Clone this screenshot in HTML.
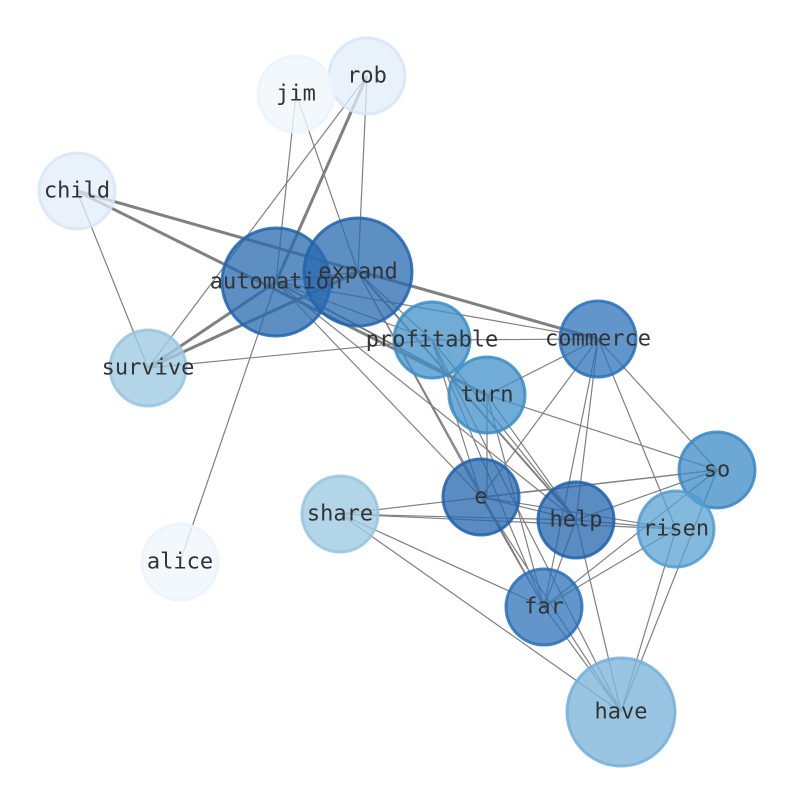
<!DOCTYPE html>
<html><head><style>html,body{margin:0;padding:0;background:#fff}svg{display:block}</style></head><body>
<svg width="794" height="790" viewBox="0 0 794 790" xmlns="http://www.w3.org/2000/svg">
<g stroke="#808080" stroke-width="1.2" fill="none">
<line x1="367" y1="76" x2="276" y2="282" stroke-width="3"/>
<line x1="367" y1="76" x2="148" y2="368"/>
<line x1="367" y1="76" x2="358" y2="272"/>
<line x1="296" y1="94" x2="276" y2="282"/>
<line x1="296" y1="94" x2="358" y2="272"/>
<line x1="77" y1="191" x2="598" y2="339" stroke-width="3"/>
<line x1="77" y1="191" x2="487" y2="395" stroke-width="3"/>
<line x1="77" y1="191" x2="148" y2="368"/>
<line x1="148" y1="368" x2="276" y2="282" stroke-width="3"/>
<line x1="148" y1="368" x2="358" y2="272" stroke-width="3"/>
<line x1="148" y1="368" x2="432" y2="340"/>
<line x1="276" y1="282" x2="358" y2="272"/>
<line x1="276" y1="282" x2="598" y2="339"/>
<line x1="276" y1="282" x2="432" y2="340"/>
<line x1="276" y1="282" x2="180" y2="562"/>
<line x1="276" y1="282" x2="576" y2="520"/>
<line x1="276" y1="282" x2="481" y2="497"/>
<line x1="276" y1="282" x2="487" y2="395" stroke-width="2"/>
<line x1="358" y1="272" x2="598" y2="339"/>
<line x1="358" y1="272" x2="432" y2="340"/>
<line x1="358" y1="272" x2="576" y2="520" stroke-width="2"/>
<line x1="358" y1="272" x2="544" y2="607"/>
<line x1="358" y1="272" x2="481" y2="497"/>
<line x1="432" y1="340" x2="598" y2="339"/>
<line x1="432" y1="340" x2="481" y2="497"/>
<line x1="432" y1="340" x2="544" y2="607"/>
<line x1="432" y1="340" x2="576" y2="520"/>
<line x1="432" y1="340" x2="621" y2="712"/>
<line x1="598" y1="339" x2="487" y2="395"/>
<line x1="598" y1="339" x2="481" y2="497"/>
<line x1="598" y1="339" x2="576" y2="520"/>
<line x1="598" y1="339" x2="544" y2="607"/>
<line x1="598" y1="339" x2="717" y2="470"/>
<line x1="598" y1="339" x2="676" y2="529"/>
<line x1="487" y1="395" x2="717" y2="470"/>
<line x1="487" y1="395" x2="576" y2="520"/>
<line x1="487" y1="395" x2="544" y2="607"/>
<line x1="487" y1="395" x2="487" y2="500"/>
<line x1="717" y1="470" x2="481" y2="497"/>
<line x1="717" y1="470" x2="576" y2="520"/>
<line x1="717" y1="470" x2="340" y2="514"/>
<line x1="717" y1="470" x2="544" y2="607"/>
<line x1="717" y1="470" x2="621" y2="712"/>
<line x1="481" y1="497" x2="576" y2="520"/>
<line x1="481" y1="497" x2="676" y2="529"/>
<line x1="481" y1="497" x2="544" y2="607"/>
<line x1="481" y1="497" x2="621" y2="712"/>
<line x1="340" y1="514" x2="576" y2="520"/>
<line x1="340" y1="514" x2="676" y2="529"/>
<line x1="340" y1="514" x2="544" y2="607"/>
<line x1="340" y1="514" x2="621" y2="712"/>
<line x1="576" y1="520" x2="676" y2="529"/>
<line x1="576" y1="520" x2="544" y2="607"/>
<line x1="576" y1="520" x2="621" y2="712"/>
<line x1="676" y1="529" x2="544" y2="607"/>
<line x1="676" y1="529" x2="621" y2="712"/>
<line x1="544" y1="607" x2="621" y2="712"/>
</g>
<g stroke-width="3">
<circle cx="367" cy="76" r="38" fill="rgba(225,236,248,0.75)" stroke="rgba(215,229,245,0.8)"/>
<circle cx="296" cy="94" r="38" fill="rgba(240,246,253,0.8)" stroke="rgba(235,243,251,0.8)"/>
<circle cx="77" cy="191" r="38" fill="rgba(225,236,248,0.75)" stroke="rgba(215,229,245,0.8)"/>
<circle cx="180" cy="562" r="38" fill="rgba(240,246,253,0.8)" stroke="rgba(235,243,251,0.8)"/>
<circle cx="148" cy="368" r="38" fill="rgba(160,203,226,0.8)" stroke="rgba(150,196,222,0.85)"/>
<circle cx="340" cy="514" r="38" fill="rgba(160,203,226,0.8)" stroke="rgba(150,196,222,0.85)"/>
<circle cx="276" cy="282" r="54" fill="rgba(40,106,175,0.75)" stroke="rgba(30,100,175,0.85)"/>
<circle cx="358" cy="272" r="54" fill="rgba(40,106,175,0.75)" stroke="rgba(30,100,175,0.85)"/>
<circle cx="432" cy="340" r="38" fill="rgba(66,144,200,0.75)" stroke="rgba(60,140,198,0.85)"/>
<circle cx="598" cy="339" r="38" fill="rgba(45,115,185,0.75)" stroke="rgba(40,110,185,0.85)"/>
<circle cx="487" cy="395" r="38" fill="rgba(66,144,200,0.75)" stroke="rgba(60,140,198,0.85)"/>
<circle cx="717" cy="470" r="38" fill="rgba(60,138,196,0.75)" stroke="rgba(55,135,195,0.85)"/>
<circle cx="481" cy="497" r="38" fill="rgba(35,100,172,0.75)" stroke="rgba(30,96,172,0.85)"/>
<circle cx="576" cy="520" r="38" fill="rgba(35,100,172,0.75)" stroke="rgba(30,96,172,0.85)"/>
<circle cx="676" cy="529" r="38" fill="rgba(90,162,210,0.75)" stroke="rgba(80,156,208,0.85)"/>
<circle cx="544" cy="607" r="38" fill="rgba(45,115,185,0.75)" stroke="rgba(40,110,185,0.85)"/>
<circle cx="621" cy="712" r="54" fill="rgba(128,182,220,0.8)" stroke="rgba(115,175,218,0.85)"/>
</g>
<g font-family="'DejaVu Sans Mono','Liberation Mono',monospace" font-size="22" fill="#333" text-anchor="middle" dominant-baseline="central">
<text x="367" y="76">rob</text>
<text x="296" y="94">jim</text>
<text x="77" y="191">child</text>
<text x="180" y="562">alice</text>
<text x="148" y="368">survive</text>
<text x="340" y="514">share</text>
<text x="276" y="282">automation</text>
<text x="358" y="272">expand</text>
<text x="432" y="340">profitable</text>
<text x="598" y="339">commerce</text>
<text x="487" y="395">turn</text>
<text x="717" y="470">so</text>
<text x="481" y="497">e</text>
<text x="576" y="520">help</text>
<text x="676" y="529">risen</text>
<text x="544" y="607">far</text>
<text x="621" y="712">have</text>
</g>
</svg>
</body></html>
